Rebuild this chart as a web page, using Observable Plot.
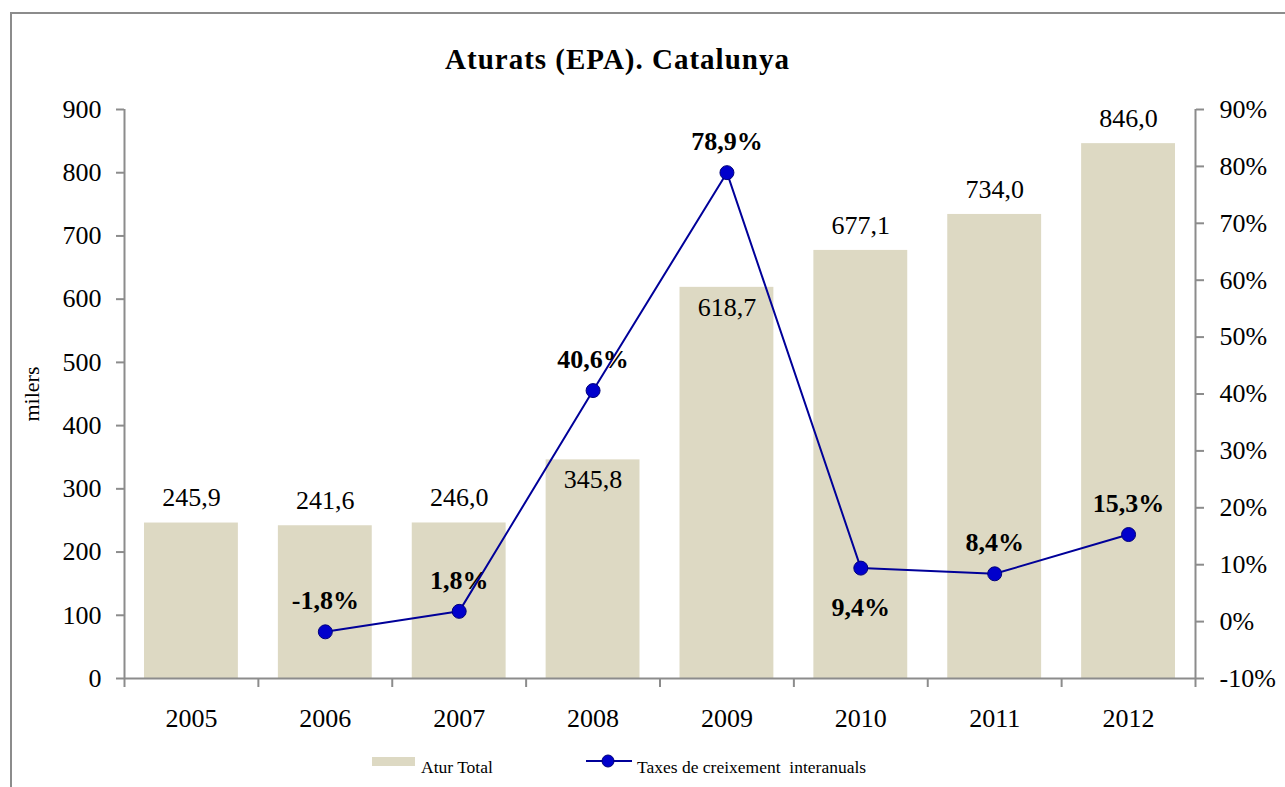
<!DOCTYPE html>
<html>
<head>
<meta charset="utf-8">
<script src="https://cdn.jsdelivr.net/npm/d3@7"></script>
<script src="https://cdn.jsdelivr.net/npm/@observablehq/plot@0.6"></script>
<style>
  html, body { margin: 0; padding: 0; background: #fff; }
  #page { position: relative; width: 1285px; height: 787px; overflow: hidden; font-family: "Liberation Serif", "Times New Roman", serif; }
  #frame { position: absolute; left: 10px; top: 12px; width: 1300px; height: 800px; border-left: 2px solid #8c8c8c; border-top: 2px solid #8c8c8c; }
  #title { position: absolute; left: 0; top: 45px; width: 1235px; text-align: center; font-size: 29px; line-height: 1; font-weight: bold; letter-spacing: 1px; color: #000; }
  #chart { position: absolute; left: 0; top: 88px; }
  #legend { position: absolute; left: 0; top: 759px; width: 1285px; height: 20px; font-size: 17.5px; line-height: 1; color: #000; }
  .sw-bar { position: absolute; left: 372px; top: -2px; width: 43px; height: 9px; background: #ddd9c3; }
  .lg-t1 { position: absolute; left: 421px; top: 0; white-space: pre; }
  .sw-line { position: absolute; left: 585px; top: -5px; }
  .lg-t2 { position: absolute; left: 637px; top: 0; white-space: pre; }
</style>
</head>
<body>
<div id="page">
  <div id="frame"></div>
  <div id="title">Aturats (EPA). Catalunya</div>
  <div id="chart"></div>
  <div id="legend">
    <div class="sw-bar"></div>
    <div class="lg-t1">Atur Total</div>
    <svg class="sw-line" width="48" height="14"><line x1="1" y1="7" x2="47" y2="7" stroke="#000099" stroke-width="2"/><circle cx="23" cy="7" r="6" fill="#0000cc" stroke="#00007a"/></svg>
    <div class="lg-t2">Taxes de creixement  interanuals</div>
  </div>
</div>
<script>
// ---- data ----
const years = [2005, 2006, 2007, 2008, 2009, 2010, 2011, 2012];
const aturTotal = [245.9, 241.6, 246.0, 345.8, 618.7, 677.1, 734.0, 846.0];
const taxes = [null, -1.8, 1.8, 40.6, 78.9, 9.4, 8.4, 15.3];
const leftTicks = [0, 100, 200, 300, 400, 500, 600, 700, 800, 900];
const rightTicks = [-10, 0, 10, 20, 30, 40, 50, 60, 70, 80, 90];
// label placement choices (as in the original)
const valueLabelsInside = [2008, 2009];
const rateLabelsBelow = [2010];

// ---- build ----
const toY = r => (r + 10) * 9; // right axis (-10%..90%) mapped onto left axis (0..900)
const bars = years.map((y, i) => ({year: y, value: aturTotal[i]}));
const rates = years.map((y, i) => ({year: y, rate: taxes[i]})).filter(d => d.rate !== null);
const fmt = v => v.toFixed(1).replace(".", ",");
const axisGray = "#8c8c8c";
const serif = "'Liberation Serif', 'Times New Roman', serif";
const boundaries = d3.range(years.length + 1).map(i => years[0] - 0.5 + i);

const chart = Plot.plot({
  width: 1285,
  height: 657,
  marginTop: 21,
  marginBottom: 67,
  marginLeft: 124,
  marginRight: 90,
  style: {fontFamily: serif, fontSize: "26px", background: "transparent", overflow: "visible", color: "#000"},
  x: {domain: [boundaries[0], boundaries[boundaries.length - 1]]},
  y: {domain: [0, 900]},
  marks: [
    Plot.rectY(bars, {x1: d => d.year - 0.5, x2: d => d.year + 0.5, y1: 0, y2: "value", insetLeft: 20, insetRight: 20, fill: "#ddd9c3"}),
    Plot.ruleY([0], {stroke: axisGray, strokeWidth: 2}),
    Plot.ruleX([boundaries[0], boundaries[boundaries.length - 1]], {stroke: axisGray, strokeWidth: 2}),
    Plot.axisY(leftTicks, {anchor: "left", tickSize: 8, tickPadding: 15, stroke: axisGray, strokeWidth: 2, fill: "#000", fontSize: 26, tickFormat: d => String(d), label: null}),
    Plot.axisY(rightTicks.map(toY), {anchor: "right", tickSize: 8, tickPadding: 16, stroke: axisGray, strokeWidth: 2, fill: "#000", fontSize: 26, tickFormat: d => Math.round(d / 9 - 10) + "%", label: null}),
    Plot.axisX(boundaries, {anchor: "bottom", tickSize: 9, stroke: axisGray, strokeWidth: 2, tickFormat: () => "", label: null}),
    Plot.axisX(years, {anchor: "bottom", tickSize: 0, tickPadding: 30, fill: "#000", fontSize: 26, tickFormat: d => String(d), label: null}),
    Plot.text(["milers"], {frameAnchor: "left", text: d => d, rotate: -90, textAnchor: "middle", lineAnchor: "middle", dx: -93, fontSize: 22, fill: "#000"}),
    Plot.text(bars.filter(d => !valueLabelsInside.includes(d.year)), {x: "year", y: "value", text: d => fmt(d.value), dy: -25, fontSize: 26, fill: "#000"}),
    Plot.text(bars.filter(d => valueLabelsInside.includes(d.year)), {x: "year", y: "value", text: d => fmt(d.value), dy: 20, fontSize: 26, fill: "#000"}),
    Plot.line(rates, {x: "year", y: d => toY(d.rate), stroke: "#000099", strokeWidth: 2}),
    Plot.dot(rates, {x: "year", y: d => toY(d.rate), r: 7, fill: "#0000cc", stroke: "#00007a", strokeWidth: 1}),
    Plot.text(rates.filter(d => !rateLabelsBelow.includes(d.year)), {x: "year", y: d => toY(d.rate), text: d => fmt(d.rate) + "%", dy: -31, fontSize: 26, fontWeight: "bold", fill: "#000"}),
    Plot.text(rates.filter(d => rateLabelsBelow.includes(d.year)), {x: "year", y: d => toY(d.rate), text: d => fmt(d.rate) + "%", dy: 40, fontSize: 26, fontWeight: "bold", fill: "#000"})
  ]
});
document.getElementById("chart").appendChild(chart);
</script>
</body>
</html>
